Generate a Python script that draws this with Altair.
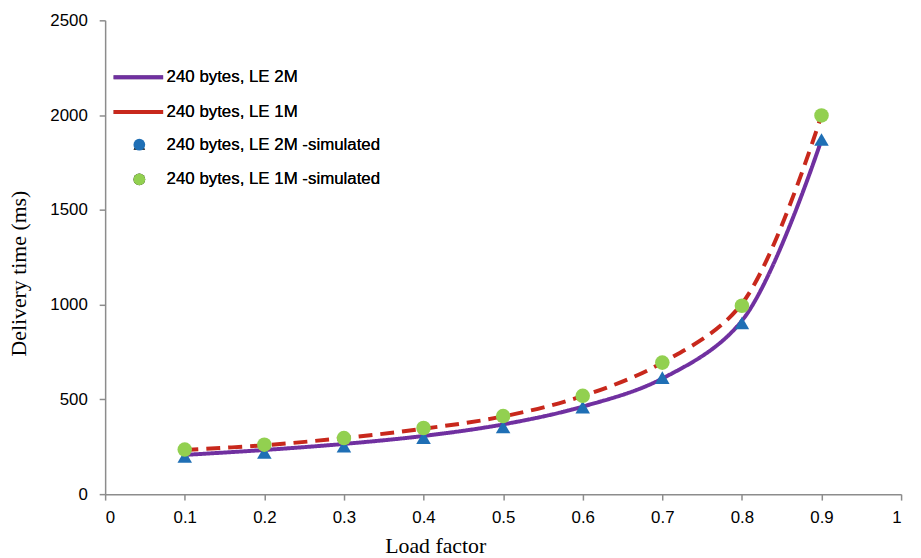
import altair as alt
import pandas as pd

load = [0.1, 0.2, 0.3, 0.4, 0.5, 0.6, 0.7, 0.8, 0.9]
line_names = ["240 bytes, LE 2M", "240 bytes, LE 1M"]
sim_names = ["240 bytes, LE 2M -simulated", "240 bytes, LE 1M -simulated"]

le2m_line = [207, 233, 265, 307, 368, 462, 610, 915, 1870]
le1m_line = [233, 258, 296, 345, 410, 518, 694, 1005, 2000]
le2m_sim = [199, 220, 253, 298, 354, 459, 615, 903, 1871]
le1m_sim = [235, 261, 296, 349, 412, 519, 694, 994, 1998]

x_ticks = [0, 0.1, 0.2, 0.3, 0.4, 0.5, 0.6, 0.7, 0.8, 0.9, 1]
y_ticks = [0, 500, 1000, 1500, 2000, 2500]

lines_df = pd.DataFrame({
    "load": load + load,
    "delay": le2m_line + le1m_line,
    "series": [line_names[0]] * len(load) + [line_names[1]] * len(load),
})
sims_df = pd.DataFrame({
    "load": load + load,
    "delay": le2m_sim + le1m_sim,
    "sim": [sim_names[0]] * len(load) + [sim_names[1]] * len(load),
})

x_enc = alt.X(
    "load:Q",
    scale=alt.Scale(domain=[0, 1], nice=False, zero=False),
    axis=alt.Axis(values=x_ticks, format="~g", title="Load factor",
                  titleX=333, titleY=59, titleAlign="center",
                  titleBaseline="alphabetic", labelPadding=10),
)
y_enc = alt.Y(
    "delay:Q",
    scale=alt.Scale(domain=[0, 2500], nice=False),
    axis=alt.Axis(values=y_ticks, format="d", title="Delivery time (ms)",
                  titleX=-80.5, titleY=255, titleAlign="center",
                  titleBaseline="alphabetic", titleAngle=-90, labelPadding=12),
)

line_legend = alt.Legend(
    title=None, orient="none", legendX=25, legendY=49,
    symbolType="M-5,0H5", symbolSize=100, symbolStrokeWidth=4,
    labelOffset=20, rowPadding=17, padding=0, labelLimit=400,
)
point_legend = alt.Legend(
    title=None, orient="none", legendX=26, legendY=117,
    symbolSize=140, labelOffset=19, rowPadding=17, padding=0,
    symbolStrokeWidth=0, labelLimit=400,
)

lines = alt.Chart(lines_df).mark_line(strokeWidth=4, interpolate="catmull-rom").encode(
    x=x_enc,
    y=y_enc,
    stroke=alt.Stroke(
        "series:N",
        scale=alt.Scale(domain=line_names, range=["#7030A0", "#C8281C"]),
        legend=line_legend,
    ),
    strokeDash=alt.StrokeDash(
        "series:N",
        scale=alt.Scale(domain=line_names, range=[[1, 0], [14, 8]]),
        legend=line_legend,
    ),
)

points = alt.Chart(sims_df).mark_point(filled=True, size=215, opacity=1).encode(
    x=x_enc,
    y=y_enc,
    fill=alt.Fill(
        "sim:N",
        scale=alt.Scale(domain=sim_names, range=["#1F6FB5", "#92D050"]),
        legend=point_legend,
    ),
    shape=alt.Shape(
        "sim:N",
        scale=alt.Scale(domain=sim_names, range=["triangle-up", "circle"]),
        legend=point_legend,
    ),
)

chart = alt.layer(lines, points).resolve_legend(
    stroke="independent", fill="independent"
).properties(
    width=803, height=478,
    autosize=alt.AutoSizeParams(type="none"),
    padding={"left": 98, "top": 10, "right": 12, "bottom": 64},
    background="white",
).configure_view(stroke=None).configure_axis(
    grid=False,
    domainColor="#8c8c8c", domainWidth=1.5,
    tickColor="#8c8c8c", tickWidth=1.5, tickSize=6,
    labelFont="Liberation Sans", labelFontSize=17, labelColor="#000000",
    labelFontWeight="normal",
    titleFont="Liberation Serif", titleFontSize=22, titleFontWeight="normal",
    titleColor="#000000",
).configure_legend(
    labelFont="Liberation Sans", labelFontSize=17, labelColor="#000000",
    labelFontWeight="normal",
)

chart.save("out.html", embed_options={"renderer": "svg", "actions": False})
